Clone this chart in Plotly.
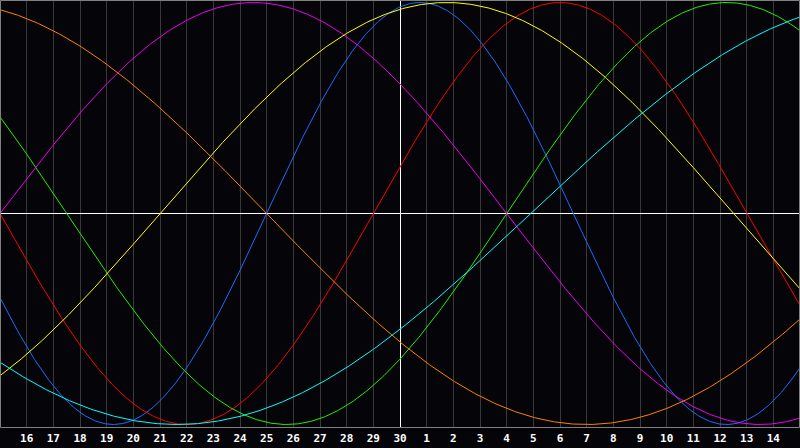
import numpy as np
import plotly.graph_objects as go

# Day labels along the bottom (one per vertical gridline)
day_labels = [str(d) for d in range(16, 31)] + [str(d) for d in range(1, 15)]
day_positions = list(range(1, 30))
today_pos = 15  # white vertical marker (day 30)

# Cycle parameters: period (days) and day of upward zero crossing
cycle_names = ["Physical", "Emotional", "Intellectual", "Intuitive", "Aesthetic", "Awareness", "Spiritual"]
cycle_periods = [23, 28, 33, 38, 43, 48, 53]
cycle_zero_up = [10.0, 14.0, 19.0, 0.0, 6.0, 34.0, 19.9]
cycle_colors = ["#1a6cff", "#ff0000", "#22ee00", "#ee00ee", "#ffff00", "#ff8000", "#00ffff"]

t = np.linspace(0, 30, 601)
W, H, B = 800, 448, 20
ph = H - B
half_px_x = 0.5 * 30 / W

fig = go.Figure()
# white reference lines (drawn first, beneath the curves)
fig.add_trace(go.Scatter(x=[0, 30], y=[0, 0], mode="lines", line=dict(color="white", width=1),
                         hoverinfo="skip", showlegend=False))
fig.add_trace(go.Scatter(x=[today_pos + half_px_x] * 2, y=[-2, 2], mode="lines",
                         line=dict(color="white", width=1), hoverinfo="skip", showlegend=False))

for name, p, z, c in zip(cycle_names, cycle_periods, cycle_zero_up, cycle_colors):
    fig.add_trace(go.Scatter(
        x=t, y=np.sin(2 * np.pi * (t - z) / p), mode="lines", name=name,
        line=dict(color=c, width=1), hoverinfo="skip", showlegend=False))

fig.update_layout(
    width=W, height=H,
    margin=dict(l=0, r=0, t=0, b=B),
    paper_bgcolor="#050509", plot_bgcolor="#050509",
    xaxis=dict(range=[0, 30], tickvals=day_positions, ticktext=day_labels,
               showgrid=True, gridcolor="#3a3a3a", gridwidth=1, zeroline=False,
               ticks="", showline=False, ticklabelstandoff=2,
               tickfont=dict(family="DejaVu Sans Mono", size=11, color="white", weight="bold")),
    yaxis=dict(range=[-1.0166, 1.0118], showgrid=False, zeroline=False,
               showticklabels=False, ticks="", showline=False),
    shapes=[
        dict(type="rect", xref="paper", yref="paper",
             x0=0.5 / W, x1=1 - 0.5 / W, y0=0.5 / ph, y1=1 - 0.5 / ph,
             line=dict(color="#808080", width=1), layer="above"),
    ],
)

fig.write_html("out.html", config={"displayModeBar": False},
               post_script="document.body.style.margin='0';document.body.style.background='#050509';")
